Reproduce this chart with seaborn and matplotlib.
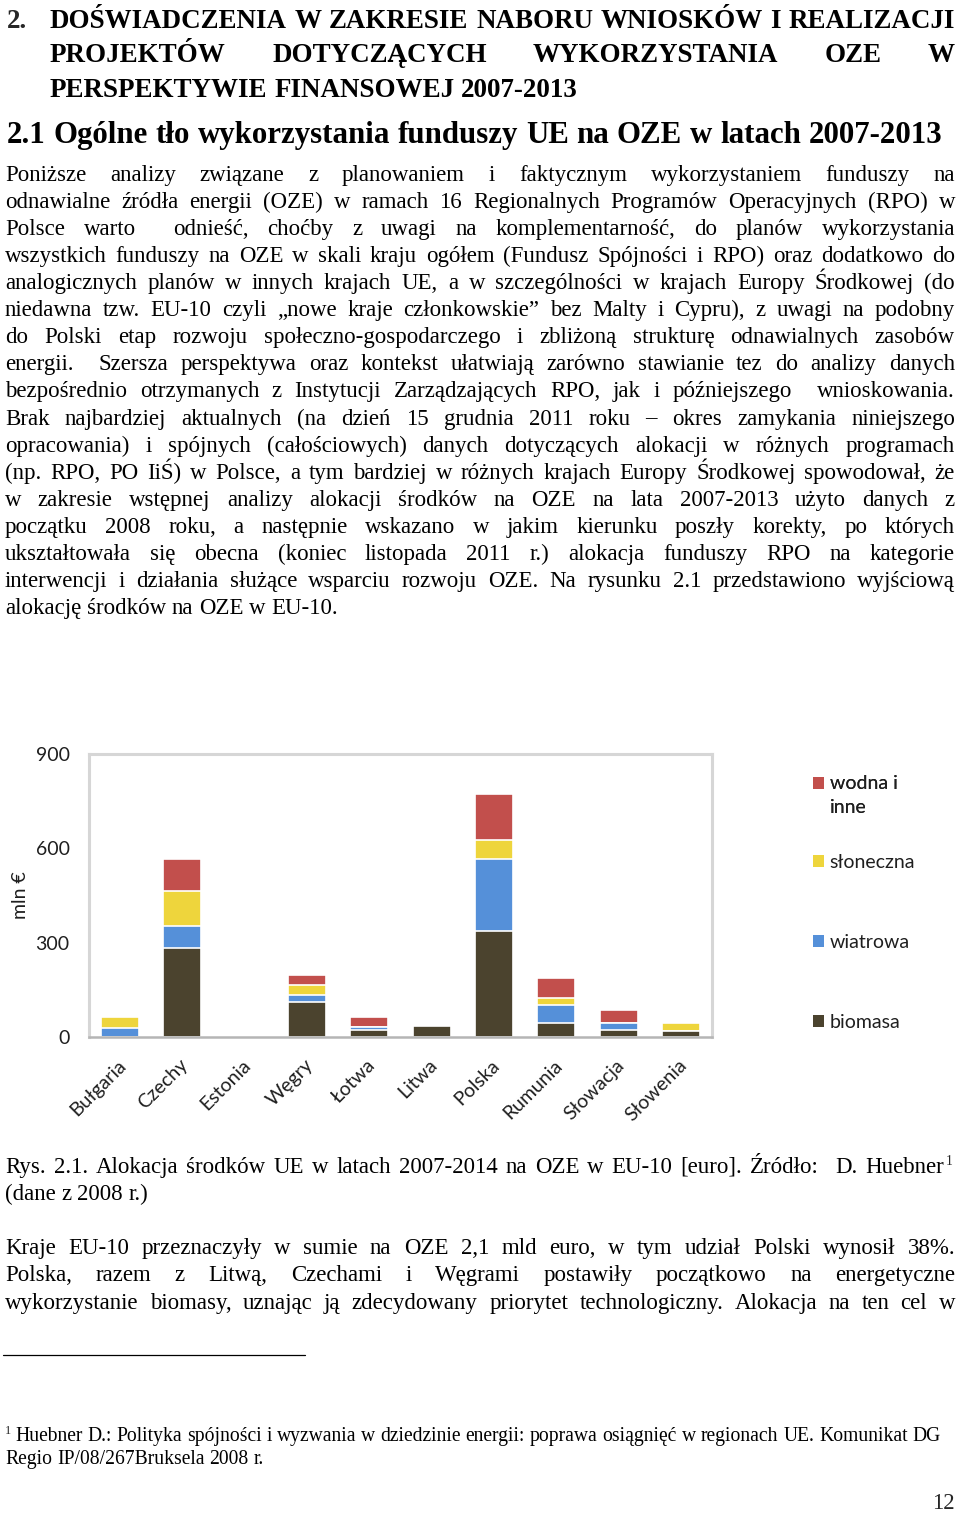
import numpy as np
import pandas as pd
import matplotlib
matplotlib.use("Agg")
import matplotlib.pyplot as plt
import matplotlib.transforms as mtrans
from matplotlib.patches import Patch
from matplotlib.legend_handler import HandlerPatch
import seaborn as sns

# ---------------- chart data (mln €) ----------------
countries = ["Bułgaria", "Czechy", "Estonia", "Węgry", "Łotwa",
             "Litwa", "Polska", "Rumunia", "Słowacja", "Słowenia"]
biomasa = [0, 282, 0, 111, 22, 35, 338, 45, 21, 18]
wiatrowa = [28, 71, 4, 24, 9, 0, 227, 58, 25, 0]
sloneczna = [35, 111, 0, 30, 0, 0, 63, 21, 0, 27]
wodna = [0, 101, 0, 33, 33, 0, 145, 65, 39, 0]
series_labels = ["biomasa", "wiatrowa", "słoneczna", "wodna i\ninne"]
series_colors = ["#4B432E", "#5590D9", "#EED53C", "#C24F4C"]
y_ticks = [0, 300, 600, 900]
y_label = "mln €"

# ---------------- page text ----------------
heading_num = "2."
heading_lines = ["DOŚWIADCZENIA W ZAKRESIE NABORU WNIOSKÓW I REALIZACJI",
                 "PROJEKTÓW DOTYCZĄCYCH WYKORZYSTANIA OZE W",
                 "PERSPEKTYWIE FINANSOWEJ 2007-2013"]
subheading = "2.1 Ogólne tło wykorzystania funduszy UE na OZE w latach 2007-2013"
body_lines = [
    "Poniższe analizy związane z planowaniem i faktycznym wykorzystaniem funduszy na",
    "odnawialne źródła energii (OZE) w ramach 16 Regionalnych Programów Operacyjnych (RPO) w",
    "Polsce warto  odnieść, choćby z uwagi na komplementarność, do planów wykorzystania",
    "wszystkich funduszy na OZE w skali kraju ogółem (Fundusz Spójności i RPO) oraz dodatkowo do",
    "analogicznych planów w innych krajach UE, a w szczególności w krajach Europy Środkowej (do",
    "niedawna tzw. EU-10 czyli „nowe kraje członkowskie” bez Malty i Cypru), z uwagi na podobny",
    "do Polski etap rozwoju społeczno-gospodarczego i zbliżoną strukturę odnawialnych zasobów",
    "energii.  Szersza perspektywa oraz kontekst ułatwiają zarówno stawianie tez do analizy danych",
    "bezpośrednio otrzymanych z Instytucji Zarządzających RPO, jak i późniejszego  wnioskowania.",
    "Brak najbardziej aktualnych (na dzień 15 grudnia 2011 roku – okres zamykania niniejszego",
    "opracowania) i spójnych (całościowych) danych dotyczących alokacji w różnych programach",
    "(np. RPO, PO IiŚ) w Polsce, a tym bardziej w różnych krajach Europy Środkowej spowodował, że",
    "w zakresie wstępnej analizy alokacji środków na OZE na lata 2007-2013 użyto danych z",
    "początku 2008 roku, a następnie wskazano w jakim kierunku poszły korekty, po których",
    "ukształtowała się obecna (koniec listopada 2011 r.) alokacja funduszy RPO na kategorie",
    "interwencji i działania służące wsparciu rozwoju OZE. Na rysunku 2.1 przedstawiono wyjściową",
    "alokację środków na OZE w EU-10.",
]
caption_lines = ["Rys. 2.1. Alokacja środków UE w latach 2007-2014 na OZE w EU-10 [euro]. Źródło:  D. Huebner",
                 "(dane z 2008 r.)"]
after_lines = ["Kraje EU-10 przeznaczyły w sumie na OZE 2,1 mld euro, w tym udział Polski wynosił 38%.",
               "Polska, razem z Litwą, Czechami i Węgrami postawiły początkowo na energetyczne",
               "wykorzystanie biomasy, uznając ją zdecydowany priorytet technologiczny. Alokacja na ten cel w"]
footnote_lines = ["Huebner D.: Polityka spójności i wyzwania w dziedzinie energii: poprawa osiągnięć w regionach UE. Komunikat DG",
                  "Regio IP/08/267Bruksela 2008 r."]
footnote_mark = "1"
page_number = "12"

# ---------------- figure ----------------
sns.set_style("white")
W, H = 960, 1513
fig = plt.figure(figsize=(W / 100, H / 100), dpi=100)
fig.patch.set_facecolor("white")
renderer = fig.canvas.get_renderer()
SERIF = "Liberation Serif"
SANS = "Lato"
CHART_FS = 14
CHART_TXT = "#1F1F1F"


def tw(s, size, weight="normal"):
    if not s:
        return 0.0
    t = fig.text(0, 0, s, fontsize=size, family=SERIF, weight=weight)
    w = t.get_window_extent(renderer=renderer).width
    t.remove()
    return w


def put_line(s, x0, x1, base, size, weight="normal", justify=True):
    toks = s.split(" ")
    ws = [tw(t, size, weight) for t in toks]
    n = len(toks) - 1
    if justify and n > 0:
        gap = (x1 - x0 - sum(ws)) / n
    else:
        gap = tw("a a", size, weight) - tw("aa", size, weight)
    x = x0
    for t, w in zip(toks, ws):
        if t:
            fig.text(x / W, 1 - base / H, t, fontsize=size, family=SERIF,
                     weight=weight, ha="left", va="baseline", color="black")
        x += w + gap


def fit(lines_targets, ref=15, weight="normal"):
    s = 100.0
    for line, target in lines_targets:
        s = min(s, ref * target / tw(line, ref, weight))
    return s


# headings
hs = fit([(heading_lines[2], 550), (heading_lines[0], 895), (heading_lines[1], 895)], 20, "bold")
fig.text(7 / W, 1 - 28 / H, heading_num, fontsize=hs, family=SERIF, weight="bold", va="baseline")
put_line(heading_lines[0], 50, 955, 28, hs, "bold", True)
put_line(heading_lines[1], 50, 955, 62, hs, "bold", True)
put_line(heading_lines[2], 50, 955, 97, hs, "bold", False)
ss = fit([(subheading, 935)], 20, "bold")
put_line(subheading, 7, 944, 143, ss, "bold", False)

# body paragraph
targets = [(l, 945) for l in body_lines[:-1]] + [(body_lines[-1], 339)]
bs = min(fit(targets, 15), 16.5)
for i, line in enumerate(body_lines):
    base = 181 + 27.06 * i
    put_line(line, 5, 955, base, bs, "normal", i < len(body_lines) - 1)

# caption
put_line(caption_lines[0], 5, 944, 1173, bs, "normal", True)
fig.text(946 / W, 1 - 1165 / H, footnote_mark, fontsize=bs * 0.6, family=SERIF, va="baseline")
put_line(caption_lines[1], 5, 955, 1200, bs, "normal", False)
for i, line in enumerate(after_lines):
    put_line(line, 5, 955, 1254 + 27.3 * i, bs, "normal", True)

# footnote rule and footnote
fig.add_artist(plt.Line2D([3 / W, 305 / W], [1 - 1355 / H, 1 - 1355 / H],
                          color="black", lw=0.9, transform=fig.transFigure))
fs = fit([(footnote_lines[0], 925)], 13)
fig.text(5 / W, 1 - 1434 / H, footnote_mark, fontsize=fs * 0.62, family=SERIF, va="baseline")
put_line(footnote_lines[0], 15, 940, 1441, fs, "normal", False)
put_line(footnote_lines[1], 5, 940, 1464, fs, "normal", False)
fig.text(955 / W, 1 - 1509 / H, page_number, fontsize=bs, family=SERIF,
         ha="right", va="baseline")

# ---------------- chart ----------------
ax = fig.add_axes([89 / W, 1 - 1037 / H, 623 / W, 283 / H])
layers = np.array([biomasa, wiatrowa, sloneczna, wodna], dtype=float)
cum = np.cumsum(layers, axis=0)
for k in range(3, -1, -1):
    df = pd.DataFrame({"kraj": countries, "val": cum[k]})
    sns.barplot(data=df, x="kraj", y="val", color=series_colors[k], saturation=1,
                width=0.61, edgecolor="white", linewidth=1.2, ax=ax, zorder=2)

ax.set_xlim(-0.5, len(countries) - 0.5)
ax.set_ylim(0, 900)
ax.set_yticks(y_ticks)
ax.set_yticklabels([str(v) for v in y_ticks], fontsize=CHART_FS, family=SANS, color=CHART_TXT)
ax.tick_params(axis="both", length=0)
ax.tick_params(axis="y", pad=14)
ax.tick_params(axis="x", pad=14)
ax.set_xlabel("")
ax.set_ylabel(y_label, fontsize=CHART_FS, family=SANS, color=CHART_TXT)
ax.yaxis.set_label_coords((29 - 89) / 623, 0.5)
offset = mtrans.ScaledTranslation(-3 / 100, 0, fig.dpi_scale_trans)
for lab in ax.get_xticklabels():
    lab.set_rotation(45)
    lab.set_ha("right")
    lab.set_va("top")
    lab.set_rotation_mode("anchor")
    lab.set_fontsize(CHART_FS)
    lab.set_family(SANS)
    lab.set_color(CHART_TXT)
    lab.set_transform(lab.get_transform() + offset)
for side in ["top", "right", "left"]:
    ax.spines[side].set_visible(True)
    ax.spines[side].set_color("#D6D6D6")
    ax.spines[side].set_linewidth(2.2)
ax.spines["bottom"].set_color("#B5B5B5")
ax.spines["bottom"].set_linewidth(1.8)
ax.grid(False)


class ShiftedPatch(HandlerPatch):
    def __init__(self, shift, **kw):
        super().__init__(**kw)
        self.shift = shift

    def create_artists(self, legend, orig_handle, xdescent, ydescent, width,
                       height, fontsize, trans):
        return super().create_artists(legend, orig_handle, xdescent,
                                      ydescent - self.shift, width, height,
                                      fontsize, trans)


handles = [Patch(facecolor=c, edgecolor="none") for c in series_colors]
common = dict(frameon=False, borderpad=0, borderaxespad=0, handlelength=0.55,
              handleheight=0.55, handletextpad=0.3,
              prop={"family": SANS, "size": CHART_FS})
leg1 = fig.legend([handles[3]], [series_labels[3]], loc="center left",
                  bbox_to_anchor=(813 / W, 1 - 795.5 / H),
                  handler_map={handles[3]: ShiftedPatch(9)}, **common)
leg1.get_texts()[0].set_linespacing(1.55)
leg2 = fig.legend([handles[2], handles[1], handles[0]],
                  [series_labels[2], series_labels[1], series_labels[0]],
                  loc="center left", bbox_to_anchor=(813 / W, 1 - 942.5 / H),
                  labelspacing=3.25, **common)
for lg in (leg1, leg2):
    for t in lg.get_texts():
        t.set_color(CHART_TXT)
fig.add_artist(leg1)

fig.savefig("out.png", dpi=100, facecolor="white")
